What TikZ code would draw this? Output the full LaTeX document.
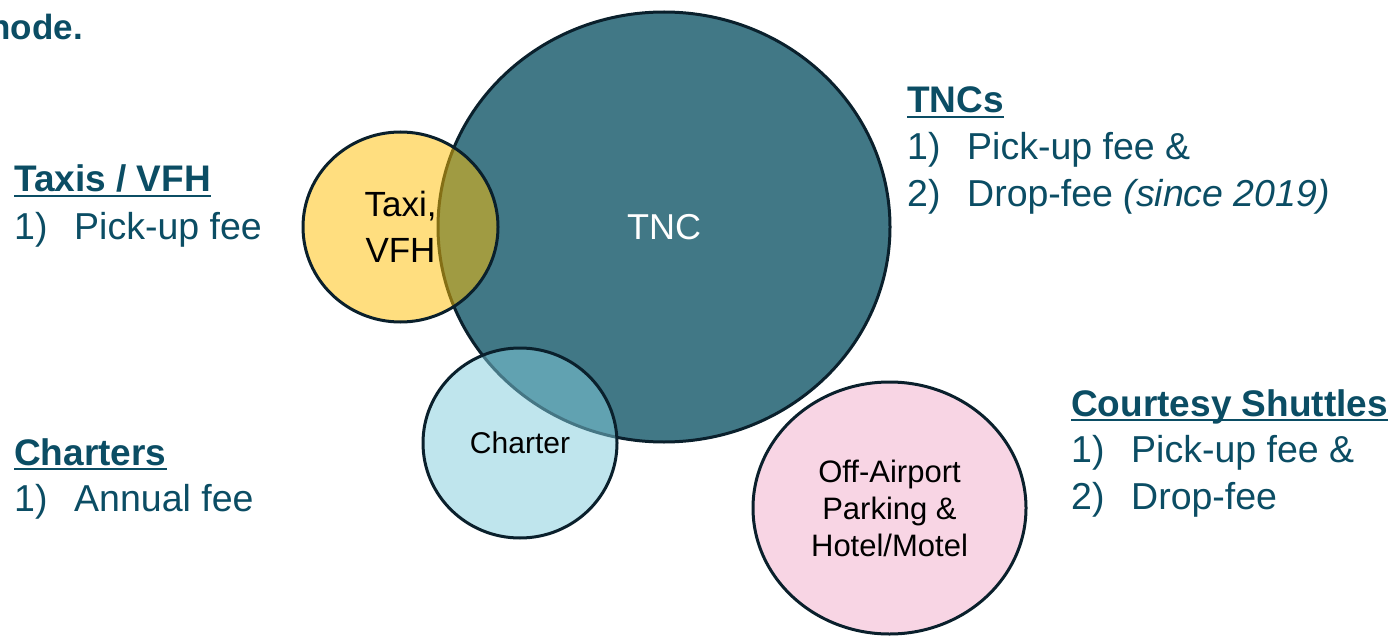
\documentclass[tikz,border=0pt]{standalone}
\usepackage{fontspec}
\setmainfont{Liberation Sans}
\usetikzlibrary{shapes.geometric}
\definecolor{teal}{RGB}{11,77,100}
\definecolor{tncfill}{RGB}{65,120,134}
\definecolor{outl}{RGB}{10,32,44}
\definecolor{taxifill}{RGB}{255,190,0}
\definecolor{charfill}{RGB}{129,205,221}
\definecolor{pinkfill}{RGB}{242,172,203}
\tikzset{
  venn/.style={ellipse, draw=outl, line width=3pt, inner sep=0pt, text opacity=1, align=center},
  head/.style={anchor=base west, inner sep=0pt, text=teal, font=\fontsize{37}{45}\selectfont\bfseries},
  item/.style={anchor=base west, inner sep=0pt, text=teal, font=\fontsize{37.5}{45}\selectfont},
  uline/.style={draw=teal, line width=2pt}
}
\begin{document}
\begin{tikzpicture}[x=1pt,y=1pt]
\useasboundingbox (0,0) rectangle (1399,-639);
\fill[white] (0,0) rectangle (1399,-639);
% title fragment
\node[anchor=base east, inner sep=0pt, text=teal, font=\fontsize{35}{40}\selectfont\bfseries] (title) at (83,-40) {node.};
% circles
\node[venn, fill=tncfill, minimum width=452pt, minimum height=430pt, text=white, font=\fontsize{36}{44}\selectfont] (tnc) at (664,-227) {TNC};
\node[venn, fill=taxifill, fill opacity=0.5, minimum width=195pt, minimum height=190pt, font=\fontsize{35}{46}\selectfont] (taxi) at (400.5,-227) {Taxi,\\VFH};
\node[venn, fill=charfill, fill opacity=0.5, minimum width=194pt, minimum height=190pt, font=\fontsize{30}{36}\selectfont] (charter) at (520,-443) {Charter};
\node[venn, fill=pinkfill, fill opacity=0.5, minimum width=273pt, minimum height=252pt, font=\fontsize{31}{37}\selectfont] (off) at (889.5,-508) {Off-Airport\\Parking \&\\Hotel/Motel};
% Taxis / VFH
\node[head] (h1) at (14,-192) {Taxis / VFH};
\draw[uline] ([yshift=-4pt]h1.base west) -- ([yshift=-4pt]h1.base east);
\node[item] (h1n1) at (14,-239) {1)};
\node[item] (h1t1) at (74,-239) {Pick-up fee};
% Charters
\node[head] (h2) at (14,-465) {Charters};
\draw[uline] ([yshift=-4pt]h2.base west) -- ([yshift=-4pt]h2.base east);
\node[item] (h2n1) at (14,-511) {1)};
\node[item] (h2t1) at (74,-511) {Annual fee};
% TNCs
\node[head] (h3) at (907,-113) {TNCs};
\draw[uline] ([yshift=-4pt]h3.base west) -- ([yshift=-4pt]h3.base east);
\node[item] (h3n1) at (907,-160) {1)};
\node[item] (h3t1) at (967,-160) {Pick-up fee \&};
\node[item] (h3n2) at (907,-207) {2)};
\node[item] (h3t2) at (967,-207) {Drop-fee \textit{(since 2019)}};
% Courtesy Shuttles
\node[head] (h4) at (1071,-416) {Courtesy Shuttles};
\draw[uline] ([yshift=-4pt]h4.base west) -- ([yshift=-4pt]h4.base east);
\node[item] (h4n1) at (1071,-462) {1)};
\node[item] (h4t1) at (1131,-462) {Pick-up fee \&};
\node[item] (h4n2) at (1071,-509) {2)};
\node[item] (h4t2) at (1131,-509) {Drop-fee};
\end{tikzpicture}
\end{document}
